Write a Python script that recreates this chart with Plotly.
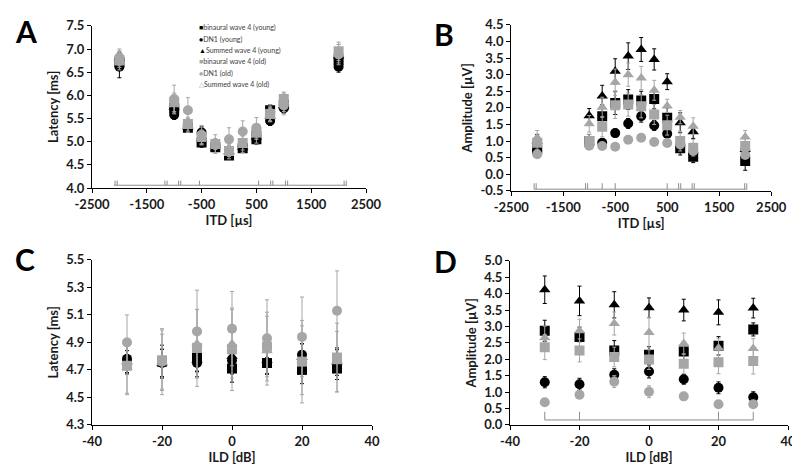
import plotly.graph_objects as go

# ---------------- data ----------------
itd = [-2000, -1000, -750, -500, -250, 0, 250, 500, 750, 1000, 2000]
ild = [-30, -20, -10, 0, 10, 20, 30]

series_names = ["binaural wave 4 (young)", "DN1 (young)", "Summed wave 4 (young)",
                "binaural wave 4 (old)", "DN1 (old)", "Summed wave 4 (old)"]

# tick labels
itd_ticks = [-2500, -1500, -500, 500, 1500, 2500]
itd_ticklabels = ["-2500", "-1500", "-500", "500", "1500", "2500"]
ild_ticks = [-40, -20, 0, 20, 40]
ild_ticklabels = ["-40", "-20", "0", "20", "40"]
lat_itd_ticks = [4.0, 4.5, 5.0, 5.5, 6.0, 6.5, 7.0, 7.5]
amp_itd_ticks = [-0.5, 0.0, 0.5, 1.0, 1.5, 2.0, 2.5, 3.0, 3.5, 4.0, 4.5]
lat_ild_ticks = [4.3, 4.5, 4.7, 4.9, 5.1, 5.3, 5.5]
amp_ild_ticks = [0.0, 0.5, 1.0, 1.5, 2.0, 2.5, 3.0, 3.5, 4.0, 4.5, 5.0]

# Panel A: latency vs ITD
lat_itd_bin_y = [6.72, 5.72, 5.30, 4.98, 4.88, 4.70, 4.86, 5.05, 5.68, 5.80, 6.76]
lat_itd_dn1_y = [6.62, 5.58, 5.35, 5.20, 4.92, 4.75, 4.90, 5.20, 5.45, 5.72, 6.62]
lat_itd_sum_y = [6.80, 5.75, 5.32, 5.05, 4.90, 4.78, 4.88, 5.10, 5.55, 5.78, 6.85]
lat_itd_bin_o = [6.75, 5.85, 5.38, 5.10, 4.95, 4.80, 4.97, 5.20, 5.60, 5.92, 6.95]
lat_itd_dn1_o = [6.82, 5.92, 5.68, 5.15, 4.95, 5.05, 5.22, 5.30, 5.62, 5.78, 6.88]
lat_itd_sum_o = [6.78, 5.80, 5.35, 5.08, 4.90, 4.78, 4.92, 5.15, 5.58, 5.85, 6.90]
err_lat_itd_bin_y = [0.15, 0.10, 0.10, 0.10, 0.08, 0.06, 0.08, 0.10, 0.12, 0.10, 0.10]
err_lat_itd_dn1_y = [0.24, 0.10, 0.10, 0.12, 0.10, 0.08, 0.10, 0.12, 0.10, 0.10, 0.12]
err_lat_itd_sum_y = [0.12, 0.12, 0.12, 0.12, 0.10, 0.10, 0.10, 0.12, 0.12, 0.12, 0.12]
err_lat_itd_bin_o = [0.20, 0.20, 0.15, 0.15, 0.12, 0.12, 0.15, 0.15, 0.15, 0.15, 0.20]
err_lat_itd_dn1_o = [0.18, 0.30, 0.27, 0.20, 0.20, 0.25, 0.23, 0.22, 0.18, 0.20, 0.22]
err_lat_itd_sum_o = [0.18, 0.20, 0.15, 0.15, 0.15, 0.15, 0.15, 0.18, 0.15, 0.20, 0.20]

# Panel B: amplitude vs ITD
amp_itd_bin_y = [0.75, 1.00, 1.75, 2.15, 2.25, 2.22, 2.27, 1.70, 0.78, 0.53, 0.40]
amp_itd_dn1_y = [0.70, 0.90, 0.95, 1.24, 1.53, 1.75, 1.47, 1.22, 0.85, 0.65, 0.73]
amp_itd_sum_y = [1.00, 1.76, 2.36, 3.10, 3.56, 3.76, 3.46, 2.79, 1.55, 1.28, 0.75]
amp_itd_bin_o = [0.95, 1.00, 1.43, 2.08, 2.10, 2.05, 1.80, 1.48, 1.00, 0.80, 0.85]
amp_itd_dn1_o = [0.60, 0.86, 0.85, 0.83, 1.04, 1.10, 0.97, 0.94, 0.90, 0.70, 0.58]
amp_itd_sum_o = [1.10, 1.52, 2.02, 2.77, 3.00, 2.90, 2.53, 2.06, 1.72, 1.45, 1.12]
err_amp_itd_bin_y = [0.20, 0.20, 0.35, 0.35, 0.30, 0.28, 0.30, 0.30, 0.20, 0.18, 0.28]
err_amp_itd_dn1_y = [0.12, 0.10, 0.12, 0.12, 0.15, 0.18, 0.15, 0.12, 0.10, 0.10, 0.12]
err_amp_itd_sum_y = [0.20, 0.22, 0.32, 0.38, 0.40, 0.36, 0.32, 0.24, 0.30, 0.20, 0.20]
err_amp_itd_bin_o = [0.20, 0.20, 0.30, 0.40, 0.35, 0.35, 0.30, 0.30, 0.30, 0.25, 0.25]
err_amp_itd_dn1_o = [0.10, 0.10, 0.10, 0.10, 0.10, 0.10, 0.10, 0.10, 0.10, 0.10, 0.10]
err_amp_itd_sum_o = [0.22, 0.25, 0.30, 0.40, 0.35, 0.35, 0.30, 0.20, 0.20, 0.25, 0.20]

# Panel C: latency vs ILD
lat_ild_bin_y = [4.74, 4.76, 4.79, 4.71, 4.75, 4.70, 4.71]
lat_ild_dn1_y = [4.78, 4.75, 4.75, 4.77, 4.75, 4.81, 4.77]
lat_ild_sum_y = [4.76, 4.75, 4.77, 4.80, 4.77, 4.79, 4.76]
lat_ild_bin_o = [4.73, 4.77, 4.86, 4.85, 4.87, 4.76, 4.79]
lat_ild_dn1_o = [4.90, 4.76, 4.98, 5.00, 4.93, 4.94, 5.13]
lat_ild_sum_o = [4.72, 4.76, 4.89, 4.89, 4.84, 4.77, 4.76]
err_lat_ild_bin_y = [0.07, 0.12, 0.10, 0.10, 0.08, 0.10, 0.08]
err_lat_ild_dn1_y = [0.10, 0.10, 0.10, 0.10, 0.08, 0.08, 0.08]
err_lat_ild_sum_y = [0.08, 0.10, 0.08, 0.08, 0.10, 0.10, 0.10]
err_lat_ild_bin_o = [0.20, 0.22, 0.28, 0.30, 0.25, 0.30, 0.25]
err_lat_ild_dn1_o = [0.20, 0.20, 0.30, 0.27, 0.28, 0.29, 0.29]
err_lat_ild_sum_o = [0.20, 0.24, 0.25, 0.25, 0.25, 0.25, 0.22]

# Panel D: amplitude vs ILD
amp_ild_bin_y = [2.87, 2.68, 2.27, 2.14, 2.24, 2.41, 2.91]
amp_ild_dn1_y = [1.30, 1.24, 1.53, 1.63, 1.39, 1.13, 0.84]
amp_ild_sum_y = [4.12, 3.78, 3.66, 3.57, 3.50, 3.43, 3.56]
amp_ild_bin_o = [2.37, 2.27, 2.07, 1.99, 1.86, 1.91, 1.95]
amp_ild_dn1_o = [0.69, 0.92, 1.32, 1.01, 0.87, 0.63, 0.63]
amp_ild_sum_o = [2.66, 2.87, 3.09, 2.82, 2.48, 2.34, 2.33]
err_amp_ild_bin_y = [0.32, 0.30, 0.30, 0.25, 0.25, 0.28, 0.20]
err_amp_ild_dn1_y = [0.17, 0.18, 0.18, 0.20, 0.15, 0.18, 0.17]
err_amp_ild_sum_y = [0.42, 0.45, 0.40, 0.30, 0.33, 0.38, 0.30]
err_amp_ild_bin_o = [0.38, 0.35, 0.30, 0.30, 0.30, 0.35, 0.40]
err_amp_ild_dn1_o = [0.10, 0.12, 0.18, 0.18, 0.12, 0.10, 0.10]
err_amp_ild_sum_o = [0.35, 0.35, 0.35, 0.45, 0.32, 0.30, 0.30]

# significance markers (tick positions and bracket spans)
sigA_ticks = [-2080, -2040, -1170, -1130, -920, -880, -540, 540, 760, 800, 1030, 1070, 2100, 2140]
sigA_span = [-2100, 2150]
sigA_level = [4.06, 4.16]
sigB_ticks = [-2060, -2020, -1070, -1030, -750, -500, 500, 720, 760, 980, 1020, 1990, 2030]
sigB_span = [-2060, 2030]
sigB_level = [-0.45, -0.27]
sigD_ticks = [-30, -20, 20, 30]
sigD_span = [-30, 30]
sigD_level = [0.15, 0.40]

# ---------------- styling ----------------
BLACK = "#000000"
GREY = "#a6a6a6"
styles = [("square", BLACK), ("circle", BLACK), ("triangle-up", BLACK),
          ("square", GREY), ("circle", GREY), ("triangle-up", GREY)]
FONT = "Lato, 'Open Sans', sans-serif"

fig = go.Figure()

panels = [
    ("x", "y", itd,
     [lat_itd_bin_y, lat_itd_dn1_y, lat_itd_sum_y, lat_itd_bin_o, lat_itd_dn1_o, lat_itd_sum_o],
     [err_lat_itd_bin_y, err_lat_itd_dn1_y, err_lat_itd_sum_y, err_lat_itd_bin_o, err_lat_itd_dn1_o, err_lat_itd_sum_o]),
    ("x2", "y2", itd,
     [amp_itd_bin_y, amp_itd_dn1_y, amp_itd_sum_y, amp_itd_bin_o, amp_itd_dn1_o, amp_itd_sum_o],
     [err_amp_itd_bin_y, err_amp_itd_dn1_y, err_amp_itd_sum_y, err_amp_itd_bin_o, err_amp_itd_dn1_o, err_amp_itd_sum_o]),
    ("x3", "y3", ild,
     [lat_ild_bin_y, lat_ild_dn1_y, lat_ild_sum_y, lat_ild_bin_o, lat_ild_dn1_o, lat_ild_sum_o],
     [err_lat_ild_bin_y, err_lat_ild_dn1_y, err_lat_ild_sum_y, err_lat_ild_bin_o, err_lat_ild_dn1_o, err_lat_ild_sum_o]),
    ("x4", "y4", ild,
     [amp_ild_bin_y, amp_ild_dn1_y, amp_ild_sum_y, amp_ild_bin_o, amp_ild_dn1_o, amp_ild_sum_o],
     [err_amp_ild_bin_y, err_amp_ild_dn1_y, err_amp_ild_sum_y, err_amp_ild_bin_o, err_amp_ild_dn1_o, err_amp_ild_sum_o]),
]


def add_sig(xa, ya, ticks, span, level):
    xs, ys = [span[0], span[1], None], [level[0], level[0], None]
    for t in ticks:
        xs += [t, t, None]
        ys += [level[0], level[1], None]
    fig.add_trace(go.Scatter(x=xs, y=ys, mode="lines", xaxis=xa, yaxis=ya,
                             line=dict(color="#8c8c8c", width=1),
                             showlegend=False, hoverinfo="skip"))


add_sig("x", "y", sigA_ticks, sigA_span, sigA_level)
add_sig("x2", "y2", sigB_ticks, sigB_span, sigB_level)
add_sig("x4", "y4", sigD_ticks, sigD_span, sigD_level)

for xa, ya, xs, ys_list, es_list in panels:
    for name, (sym, col), ys, es in zip(series_names, styles, ys_list, es_list):
        fig.add_trace(go.Scatter(
            x=xs, y=ys, mode="markers", name=name, xaxis=xa, yaxis=ya,
            marker=dict(symbol=sym, color=col, size=10),
            error_y=dict(type="data", array=es, color=col, thickness=1, width=2),
            showlegend=False))

axis_common = dict(showline=True, linecolor="black", linewidth=1.2, ticks="outside",
                   ticklen=4, tickcolor="black", showgrid=False, zeroline=False,
                   automargin=False,
                   tickfont=dict(family=FONT, size=13, color="#1a1a1a"))
title_font = dict(family=FONT, size=13, color="#1a1a1a")


def bold(labels):
    return [f"<b>{t}</b>" for t in labels]


def ylab(vals):
    return bold([f"{v:.1f}" for v in vals])


fig.update_layout(
    width=800, height=470, margin=dict(l=0, r=0, t=0, b=0, autoexpand=False),
    paper_bgcolor="white", plot_bgcolor="white", showlegend=False,
    font=dict(family=FONT),
    xaxis=dict(domain=[0.105, 0.4475], range=[-2500, 2500], tickvals=itd_ticks, ticktext=bold(itd_ticklabels),
               anchor="y", title=dict(text="<b>ITD [µs]</b>", font=title_font, standoff=4), **axis_common),
    yaxis=dict(domain=[0.617, 0.962], range=[4.0, 7.5], tickvals=lat_itd_ticks, ticktext=ylab(lat_itd_ticks),
               anchor="x", title=dict(text="<b>Latency [ms]</b>", font=title_font, standoff=4), **axis_common),
    xaxis2=dict(domain=[0.629, 0.954], range=[-2500, 2500], tickvals=itd_ticks, ticktext=bold(itd_ticklabels),
                anchor="y2", title=dict(text="<b>ITD [µs]</b>", font=title_font, standoff=4), **axis_common),
    yaxis2=dict(domain=[0.611, 0.964], range=[-0.5, 4.5], tickvals=amp_itd_ticks, ticktext=ylab(amp_itd_ticks),
                anchor="x2", title=dict(text="<b>Amplitude [µV]</b>", font=title_font, standoff=4), **axis_common),
    xaxis3=dict(domain=[0.105, 0.455], range=[-40, 40], tickvals=ild_ticks, ticktext=bold(ild_ticklabels),
                anchor="y3", title=dict(text="<b>ILD [dB]</b>", font=title_font, standoff=4), **axis_common),
    yaxis3=dict(domain=[0.113, 0.464], range=[4.3, 5.5], tickvals=lat_ild_ticks, ticktext=ylab(lat_ild_ticks),
                anchor="x3", title=dict(text="<b>Latency [ms]</b>", font=title_font, standoff=4), **axis_common),
    xaxis4=dict(domain=[0.6275, 0.975], range=[-40, 40], tickvals=ild_ticks, ticktext=bold(ild_ticklabels),
                anchor="y4", title=dict(text="<b>ILD [dB]</b>", font=title_font, standoff=4), **axis_common),
    yaxis4=dict(domain=[0.113, 0.462], range=[0, 5], tickvals=amp_ild_ticks, ticktext=ylab(amp_ild_ticks),
                anchor="x4", title=dict(text="<b>Amplitude [µV]</b>", font=title_font, standoff=4), **axis_common),
)

# panel letters
for letter, px, py in [("A", 18, 23), ("B", 436, 26), ("C", 17, 251), ("D", 437, 253)]:
    fig.add_annotation(text=f"<b>{letter}</b>", x=px / 800, y=1 - py / 470, xref="paper", yref="paper",
                       showarrow=False, xanchor="center", yanchor="middle",
                       font=dict(family=FONT, size=30, color="black"))

# compact legend inside panel A
legend_symbols = ["■", "●", "▲", "■", "●", "△"]
legend_colors = [BLACK, BLACK, BLACK, GREY, GREY, GREY]
for i, (name, s, c) in enumerate(zip(series_names, legend_symbols, legend_colors)):
    fig.add_annotation(text=f"<span style='color:{c}'>{s}</span>{name}",
                       x=189 / 800, y=1 - (20 + i * 11.3) / 470, xref="paper", yref="paper",
                       showarrow=False, xanchor="left", yanchor="middle",
                       font=dict(family=FONT, size=7, color="#404040"))

fig.write_html("out.html")
